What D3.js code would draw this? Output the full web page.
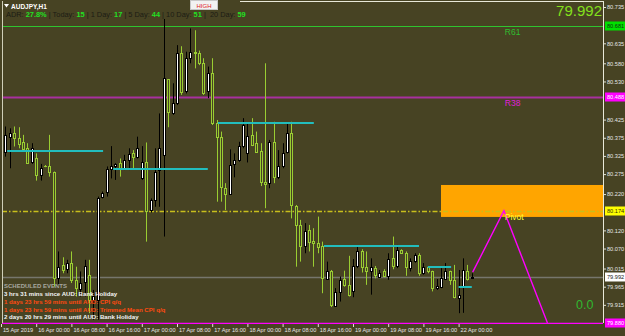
<!DOCTYPE html>
<html><head><meta charset="utf-8">
<script src="https://cdn.jsdelivr.net/npm/d3@7"></script>
<style>html,body{margin:0;padding:0;background:#474323;}svg{display:block;}</style>
</head><body>
<svg id="c" width="625" height="336"></svg>
<script>
// ---------- DATA ----------
const opens  = [80.415,80.337,80.378,80.389,80.373,80.362,80.346,80.307,80.318,80.273,80.297,80.297,80.282,79.988,80.025,80.013,80.030,79.984,79.958,79.979,79.997,79.929,79.929,80.213,80.227,80.288,80.296,80.305,80.289,80.314,80.332,80.323,80.263,80.309,80.176,80.204,80.285,80.328,80.536,80.442,80.470,80.607,80.504,80.594,80.612,80.609,80.580,80.504,80.552,80.415,80.378,80.236,80.220,80.303,80.314,80.351,80.332,80.383,80.360,80.339,80.254,80.250,80.364,80.266,80.296,80.337,80.389,80.187,80.135,80.077,80.121,80.092,80.086,80.077,79.986,80.007,79.912,79.949,79.986,79.970,79.952,80.022,80.064,80.019,80.007,80.016,79.993,80.007,79.995,80.043,80.022,80.066,80.057,80.016,80.037,80.052,80.004,80.020,80.007,79.961,79.965,79.986,80.007,79.984,79.933,79.965,80.009,79.988];
const highs  = [80.438,80.406,80.401,80.406,80.404,80.383,80.360,80.360,80.332,80.303,80.300,80.383,80.282,80.062,80.046,80.039,80.062,80.020,80.007,80.039,80.039,79.956,80.213,80.227,80.296,80.352,80.305,80.318,80.328,80.346,80.341,80.378,80.352,80.362,80.208,80.346,80.442,80.702,80.536,80.525,80.630,80.627,80.612,80.676,80.671,80.615,80.594,80.571,80.594,80.424,80.392,80.250,80.343,80.332,80.364,80.429,80.415,80.429,80.392,80.360,80.580,80.369,80.419,80.341,80.360,80.417,80.419,80.190,80.149,80.140,80.135,80.126,80.158,80.089,80.034,80.011,79.961,79.993,80.009,80.050,80.041,80.077,80.068,80.062,80.043,80.022,80.011,80.013,80.057,80.103,80.080,80.068,80.062,80.043,80.057,80.057,80.030,80.022,80.009,79.986,80.016,80.030,80.009,80.025,80.011,80.043,80.025,80.002];
const lows   = [80.314,80.323,80.291,80.351,80.346,80.340,80.303,80.303,80.257,80.257,80.294,80.268,79.965,79.965,80.002,80.002,79.975,79.938,79.938,79.938,79.892,79.874,79.874,80.208,80.213,80.263,80.259,80.268,80.286,80.286,80.291,80.318,80.259,80.089,80.169,80.185,80.185,80.103,80.404,80.438,80.465,80.493,80.497,80.580,80.566,80.575,80.493,80.484,80.410,80.199,80.199,80.176,80.218,80.266,80.309,80.346,80.307,80.352,80.334,80.242,80.181,80.236,80.250,80.261,80.291,80.332,80.153,80.020,80.034,80.057,80.062,80.020,80.057,79.947,79.984,79.909,79.910,79.924,79.965,79.938,79.936,80.016,80.004,79.970,79.943,79.988,79.991,79.991,79.984,80.013,80.016,80.055,79.995,80.007,80.031,79.995,79.998,80.002,79.952,79.956,79.961,79.984,79.970,79.933,79.892,79.893,79.982,79.986];
const closes = [80.337,80.383,80.389,80.373,80.358,80.343,80.305,80.346,80.273,80.291,80.296,80.282,79.988,80.020,80.011,80.030,79.984,79.961,79.976,80.022,79.929,79.938,80.208,80.222,80.289,80.296,80.303,80.291,80.314,80.329,80.323,80.346,80.309,80.172,80.204,80.282,80.346,80.539,80.447,80.472,80.609,80.502,80.594,80.612,80.607,80.580,80.499,80.552,80.415,80.378,80.239,80.220,80.300,80.314,80.352,80.410,80.380,80.355,80.337,80.254,80.248,80.364,80.266,80.297,80.334,80.389,80.190,80.135,80.077,80.119,80.089,80.086,80.075,79.988,80.007,79.915,79.949,79.984,79.970,79.942,80.022,80.064,80.020,80.009,80.020,79.998,80.004,79.995,80.041,80.022,80.066,80.057,80.019,80.037,80.051,80.004,80.020,80.007,79.961,79.967,79.988,80.007,79.984,79.936,79.942,80.011,79.986,79.992];

const xTickBars   = [0,8,16,24,32,40,48,56,64,72,80,88,96,104];
const xTickLabels = ["15 Apr 2019","16 Apr 00:00","16 Apr 08:00","16 Apr 16:00","17 Apr 00:00","17 Apr 08:00","17 Apr 16:00","18 Apr 00:00","18 Apr 08:00","18 Apr 16:00","19 Apr 00:00","19 Apr 08:00","19 Apr 16:00","22 Apr 00:00"];
const yTickValues = [80.735,80.635,80.580,80.530,80.425,80.375,80.325,80.275,80.220,80.120,80.070,80.015,79.965,79.915];

const levelNames  = ["R61","R38","Pivot","Bid","S"];
const levelValues = [80.683,80.488,80.174,79.992,79.865];
const levelLabels = ["80.681","80.488","80.174","79.992","79.880"];

const segStart = [1.4,25.5,49.3,73.4,97,104];
const segEnd   = [23.2,47,71.1,95,102.3,107];
const segPrice = [80.339,80.289,80.416,80.078,80.020,79.963];

const zoneStartBar = 100;
const zoneTop = 80.245, zoneBottom = 80.157;

const zzBars   = [107.2,114.3,124.2];
const zzPrices = [80.005,80.174,79.865];

const adrLabels = ["ADR: ","| Today: ","| 1 Day: ","| 5 Day: ","| 10 Day: ","|  20 Day: "];
const adrValues = ["27.8%","15","17","44","51","59"];

const eventLines  = ["3 hrs 31 mins since AUD: Bank Holiday","1 days 23 hrs 59 mins until AUD: CPI q/q","1 days 23 hrs 59 mins until AUD: Trimmed Mean CPI q/q","2 days 20 hrs 29 mins until AUD: Bank Holiday"];
const eventKinds  = ["past","future","future","holiday"];

// ---------- DRAW ----------
const W = 625, H = 336;
const plotL = 2, plotR = 603, plotT = 1, plotB = 323;
const BG = "#474323";
const FONT = "Liberation Sans, Arial, sans-serif";
const svg = d3.select("#c");
svg.append("rect").attr("width",W).attr("height",H).attr("fill",BG);

const x = d3.scaleLinear().domain([0,107]).range([1,471.8]);
const y = d3.scaleLinear().domain([79.865,80.735]).range([323,7]);

const plot = svg.append("g");
plot.append("clipPath").attr("id","clip").append("rect")
  .attr("x",plotL).attr("y",plotT).attr("width",plotR-plotL).attr("height",plotB-plotT+1);
const g = plot.append("g").attr("clip-path","url(#clip)");

// orange zone
g.append("rect")
  .attr("x",x(zoneStartBar)).attr("y",y(zoneTop))
  .attr("width",plotR - x(zoneStartBar)).attr("height",y(zoneBottom)-y(zoneTop))
  .attr("fill","#ffa500");

// levels
const levelColor = {R61:"#2fc42f",R38:"#a8309f",Pivot:"#c8be1c",Bid:"#76766c",S:"#ff00ff"};
const levelWidth = {R61:1,R38:2,Pivot:1.3,Bid:1.5,S:1.5};
levelNames.forEach((n,i)=>{
  const yy = Math.round(y(levelValues[i]))+0.5;
  const ln = g.append("line").attr("x1",plotL).attr("x2",plotR)
    .attr("y1",yy).attr("y2",yy)
    .attr("stroke",levelColor[n]).attr("stroke-width",levelWidth[n]);
  if(n==="Pivot") ln.attr("stroke-dasharray","5,2,1.5,2");
});

// candles
const data = opens.map((o,i)=>({i,o,h:highs[i],l:lows[i],c:closes[i]}));
const cg = g.append("g");
data.forEach(d=>{
  const cx = Math.round(x(d.i));
  const bull = d.c >= d.o;
  const col = bull ? "#000000" : "#9acd32";
  cg.append("line").attr("x1",cx+0.5).attr("x2",cx+0.5)
    .attr("y1",y(d.h)).attr("y2",y(d.l)).attr("stroke",col).attr("stroke-width",1);
  const top = Math.round(y(Math.max(d.o,d.c)));
  const bot = Math.round(y(Math.min(d.o,d.c)));
  cg.append("rect").attr("x",cx-1+0.5).attr("y",top+0.5)
    .attr("width",2).attr("height",Math.max(bot-top,0.01))
    .attr("fill",bull?"#ffffff":BG).attr("stroke",col).attr("stroke-width",1);
});

// cyan segments
segStart.forEach((s,i)=>{
  const yy = Math.round(y(segPrice[i]));
  g.append("line").attr("x1",x(s)).attr("x2",x(segEnd[i]))
    .attr("y1",yy).attr("y2",yy).attr("stroke","#22bdbd").attr("stroke-width",2);
});

// zigzag
g.append("path")
  .attr("d",d3.line().x(d=>x(d[0])).y(d=>y(d[1]))(zzBars.map((b,i)=>[b,zzPrices[i]])))
  .attr("fill","none").attr("stroke","#ff00ff").attr("stroke-width",1.4);

// level texts
const lt = [["R61","#2fbf2f"],["R38","#e020d8"],["Pivot","#ffff30"]];
lt.forEach(([n,c])=>{
  const v = levelValues[levelNames.indexOf(n)];
  g.append("text").attr("x",x(114.5)).attr("y",y(v)+9)
    .attr("font-family",FONT).attr("font-size",8.5)
    .attr("fill",c).text(n);
});

// frame
svg.append("line").attr("x1",plotL+0.5).attr("x2",plotL+0.5).attr("y1",plotT).attr("y2",plotB)
  .attr("stroke","#cfcfb8").attr("stroke-width",1);
svg.append("line").attr("x1",plotR+0.5).attr("x2",plotR+0.5).attr("y1",plotT).attr("y2",plotB)
  .attr("stroke","#e8e8d8").attr("stroke-width",1);
svg.append("line").attr("x1",240).attr("x2",plotR).attr("y1",plotT+0.5).attr("y2",plotT+0.5)
  .attr("stroke","#e8e8d8").attr("stroke-width",1);

// right axis
const ya = svg.append("g").attr("transform",`translate(${plotR+1},0)`)
  .call(d3.axisRight(y).tickValues(yTickValues).tickSize(2).tickFormat(d3.format(".3f")));
ya.select(".domain").remove();
ya.selectAll("line").attr("stroke","#e0e0d0");
ya.selectAll("text").attr("fill","#e6e6e6").attr("font-size",5.6)
  .attr("font-family",FONT).attr("x",3);

// level axis labels
const lblBg = {R61:"#00e000",R38:"#ff00ff",Pivot:"#ffff00",Bid:"#ffffff",S:"#ff00ff"};
const lblFg = {R61:"#103010",R38:"#ffffff",Pivot:"#303000",Bid:"#202020",S:"#ffffff"};
levelNames.forEach((n,i)=>{
  const yy = Math.min(Math.round(y(levelValues[i])), 331);
  const gg = svg.append("g");
  gg.append("rect").attr("x",plotR+2).attr("y",yy-4.5).attr("width",W-plotR-2).attr("height",9)
    .attr("fill",lblBg[n]);
  gg.append("text").attr("x",plotR+4).attr("y",yy+2).attr("font-size",5.6)
    .attr("font-family",FONT).attr("fill",lblFg[n]).text(levelLabels[i]);
});

// bottom axis
const xa = svg.append("g").attr("transform",`translate(0,${plotB+1})`)
  .call(d3.axisBottom(x).tickValues(xTickBars).tickSize(3).tickFormat((d,i)=>xTickLabels[i]));
xa.select(".domain").remove();
xa.selectAll("line").attr("stroke","#e0e0d0");
xa.selectAll("text").attr("fill","#e6e6e6").attr("font-size",5.6)
  .attr("font-family",FONT)
  .attr("text-anchor","start").attr("dx",1.5).attr("y",4).attr("dy","0.71em");

// header
svg.append("path").attr("d","M4,4 L9,4 L6.5,7.5 Z").attr("fill","#ffffff");
svg.append("text").attr("x",11).attr("y",8.5).attr("font-size",6.5).attr("font-weight","bold")
  .attr("font-family",FONT).attr("fill","#ffffff").text("AUDJPY,H1");
const ht = svg.append("text").attr("x",6).attr("y",17).attr("font-size",7.4)
  .attr("font-family",FONT).attr("xml:space","preserve");
adrLabels.forEach((l,i)=>{
  ht.append("tspan").attr("fill","#1c1c14").text((i? " ":"")+l);
  ht.append("tspan").attr("fill","#22e022").attr("font-weight","bold").text(adrValues[i]);
});

// HIGH box
svg.append("rect").attr("x",190.5).attr("y",0.5).attr("width",27).attr("height",9)
  .attr("fill","#f2f2f2").attr("stroke","#c8c8c8");
svg.append("text").attr("x",204).attr("y",7.5).attr("text-anchor","middle").attr("font-size",6)
  .attr("font-family",FONT).attr("fill","#e02020").text("HIGH");

// current price big
svg.append("text").attr("x",plotR-1).attr("y",16).attr("text-anchor","end").attr("font-size",15)
  .attr("font-family",FONT).attr("fill","#84e01c")
  .text(d3.format(".3f")(closes[closes.length-1]));

// 0.0
svg.append("text").attr("x",576).attr("y",309).attr("font-size",12.5)
  .attr("font-family",FONT).attr("fill","#30b830").text("0.0");

// events
const ev = svg.append("g").attr("font-family",FONT).attr("font-weight","bold");
ev.append("text").attr("x",4).attr("y",287.5).attr("font-size",6).attr("fill","#a8a8a0").text("SCHEDULED EVENTS");
const evCol = {past:"#f4f4f4",future:"#ff4a10",holiday:"#f4f4f4"};
eventLines.forEach((t,i)=>{
  ev.append("text").attr("x",4).attr("y",296+i*7.8).attr("font-size",6.1).attr("fill",evCol[eventKinds[i]]).text(t);
});
</script>
</body></html>
